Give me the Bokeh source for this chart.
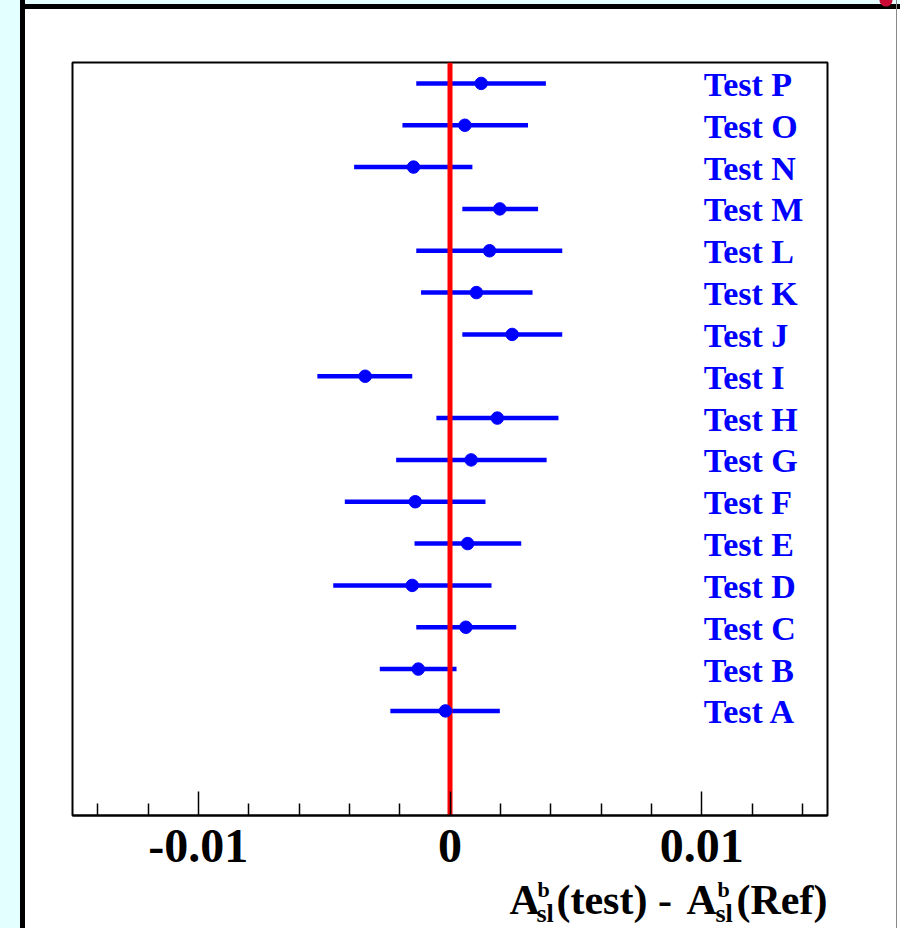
from bokeh.plotting import figure
from bokeh.layouts import column
from bokeh.models import ColumnDataSource, FixedTicker, Range1d
from bokeh.core.properties import value
from bokeh.embed import file_html
from bokeh.resources import INLINE

# ---- data ----
names = ["Test A", "Test B", "Test C", "Test D", "Test E", "Test F", "Test G", "Test H",
         "Test I", "Test J", "Test K", "Test L", "Test M", "Test N", "Test O", "Test P"]
central = [-0.00018, -0.00126, 0.00063, -0.00150, 0.00070, -0.00138, 0.00084, 0.00188,
           -0.00337, 0.00247, 0.00105, 0.00157, 0.00198, -0.00145, 0.00059, 0.00124]
lower = [-0.00237, -0.00279, -0.00134, -0.00464, -0.00141, -0.00418, -0.00214, -0.00054,
         -0.00527, 0.00049, -0.00115, -0.00134, 0.00049, -0.00381, -0.00189, -0.00134]
upper = [0.00198, 0.00026, 0.00263, 0.00165, 0.00283, 0.00141, 0.00384, 0.00431,
         -0.00150, 0.00446, 0.00328, 0.00446, 0.00350, 0.00089, 0.00310, 0.00381]
tick_values = [-0.01, 0.0, 0.01]
tick_labels = ["-0.01", "0", "0.01"]
minor_values = [-0.014, -0.012, -0.008, -0.006, -0.004, -0.002,
                0.002, 0.004, 0.006, 0.008, 0.012, 0.014]
ref_value = 0.0
# axis title, split into main text / superscript / subscript pieces
title_pieces = ["A", "b", "sl", "(test) -", "A", "b", "sl", "(Ref)"]

rows = list(range(1, len(names) + 1))
src = ColumnDataSource(dict(y=rows, c=central, lo=lower, hi=upper, name=names))

SERIF = "Liberation Serif"
BLUE = "#0000ff"
CYAN = "#e3ffff"

main_bg = ("radial-gradient(circle at 886px 0px, #cc0a36 0px, #cc0a36 6px, rgba(0,0,0,0) 7px), "
           "linear-gradient(to right, %s 0px, %s 20px, #000 20px, #000 25px, rgba(0,0,0,0) 25px), "
           "linear-gradient(to right, rgba(0,0,0,0) 896px, #888 896px, #888 897px, rgba(0,0,0,0) 897px), "
           "linear-gradient(to bottom, %s 0px, %s 4px, #000 4px, #000 9px, #fff 9px)") % (CYAN, CYAN, CYAN, CYAN)
title_bg = ("linear-gradient(to right, %s 0px, %s 20px, #000 20px, #000 25px, #fff 25px, "
            "#fff 896px, #888 896px, #888 897px, #fff 897px)") % (CYAN, CYAN)

MAIN_H = 876
FL, FR, FT, FB = 72, 827, 62, 815   # frame edges in page pixels
p = figure(width=900, height=MAIN_H, x_range=(-0.015, 0.015), y_range=(-1.5, 16.5),
           y_axis_location=None, output_backend="svg", toolbar_location=None,
           min_border_left=FL, min_border_right=900 - FR, min_border_top=FT,
           min_border_bottom=MAIN_H - FB)
p.styles = {"background": main_bg}
p.background_fill_color = "white"
p.border_fill_alpha = 0
p.outline_line_color = "black"
p.outline_line_width = 2
p.xgrid.visible = False
p.ygrid.visible = False

ax = p.xaxis[0]
ax.ticker = FixedTicker(ticks=tick_values, minor_ticks=minor_values)
ax.major_label_overrides = {v: t for v, t in zip(tick_values, tick_labels)}
ax.axis_line_color = "black"
ax.axis_line_width = 2
ax.major_tick_in = 24
ax.major_tick_out = 0
ax.minor_tick_in = 12
ax.minor_tick_out = 0
ax.major_tick_line_width = 1.5
ax.minor_tick_line_width = 1.5
ax.major_label_text_font = SERIF
ax.major_label_text_font_style = "bold"
ax.major_label_text_font_size = "48px"
ax.major_label_text_color = "black"
ax.major_label_standoff = 14
ax.axis_label = None

# error bars
p.segment(x0="lo", y0="y", x1="hi", y1="y", source=src, line_color=BLUE, line_width=4.5)
# reference line
p.segment(x0=[ref_value], y0=[p.y_range.start], x1=[ref_value], y1=[p.y_range.end],
          line_color="red", line_width=5)
# central values
p.scatter(x="c", y="y", source=src, size=12.5, fill_color=BLUE, line_color=BLUE)
# names
p.text(x=0.01, y="y", text="name", source=src, x_offset=2, y_offset=1, text_baseline="middle",
       text_align="left", text_font=value(SERIF), text_font_style="bold",
       text_font_size="34px", text_color=BLUE)

# ---- strip below holding the axis title; its coordinates are page pixels ----
TITLE_H = 52
t = figure(width=900, height=TITLE_H, x_range=Range1d(FL, FR),
           y_range=Range1d(TITLE_H, 0),
           x_axis_location=None, y_axis_location=None, output_backend="svg",
           toolbar_location=None, min_border_left=FL, min_border_right=900 - FR,
           min_border_top=0, min_border_bottom=0)
t.styles = {"background": title_bg}
t.background_fill_alpha = 0
t.border_fill_alpha = 0
t.outline_line_color = None
t.xgrid.visible = False
t.ygrid.visible = False

piece_x = [509, 537, 536, 556, 686, 717, 715, 736]
piece_size = [42, 22, 26, 42, 42, 22, 26, 42]
piece_base = [913.5, 896, 921.5, 913.5, 913.5, 896, 921.5, 913.5]   # page baselines
piece_y = [b - MAIN_H - 0.34 * s for b, s in zip(piece_base, piece_size)]
tsrc = ColumnDataSource(dict(x=piece_x, y=piece_y, text=title_pieces,
                             size=["%dpx" % s for s in piece_size]))
t.text(x="x", y="y", text="text", source=tsrc, text_font=value(SERIF), text_font_style="bold",
       text_font_size="size", text_color="black", text_align="left", text_baseline="middle")

layout = column(p, t, spacing=0)
open("out.html", "w").write(file_html(layout, INLINE))
